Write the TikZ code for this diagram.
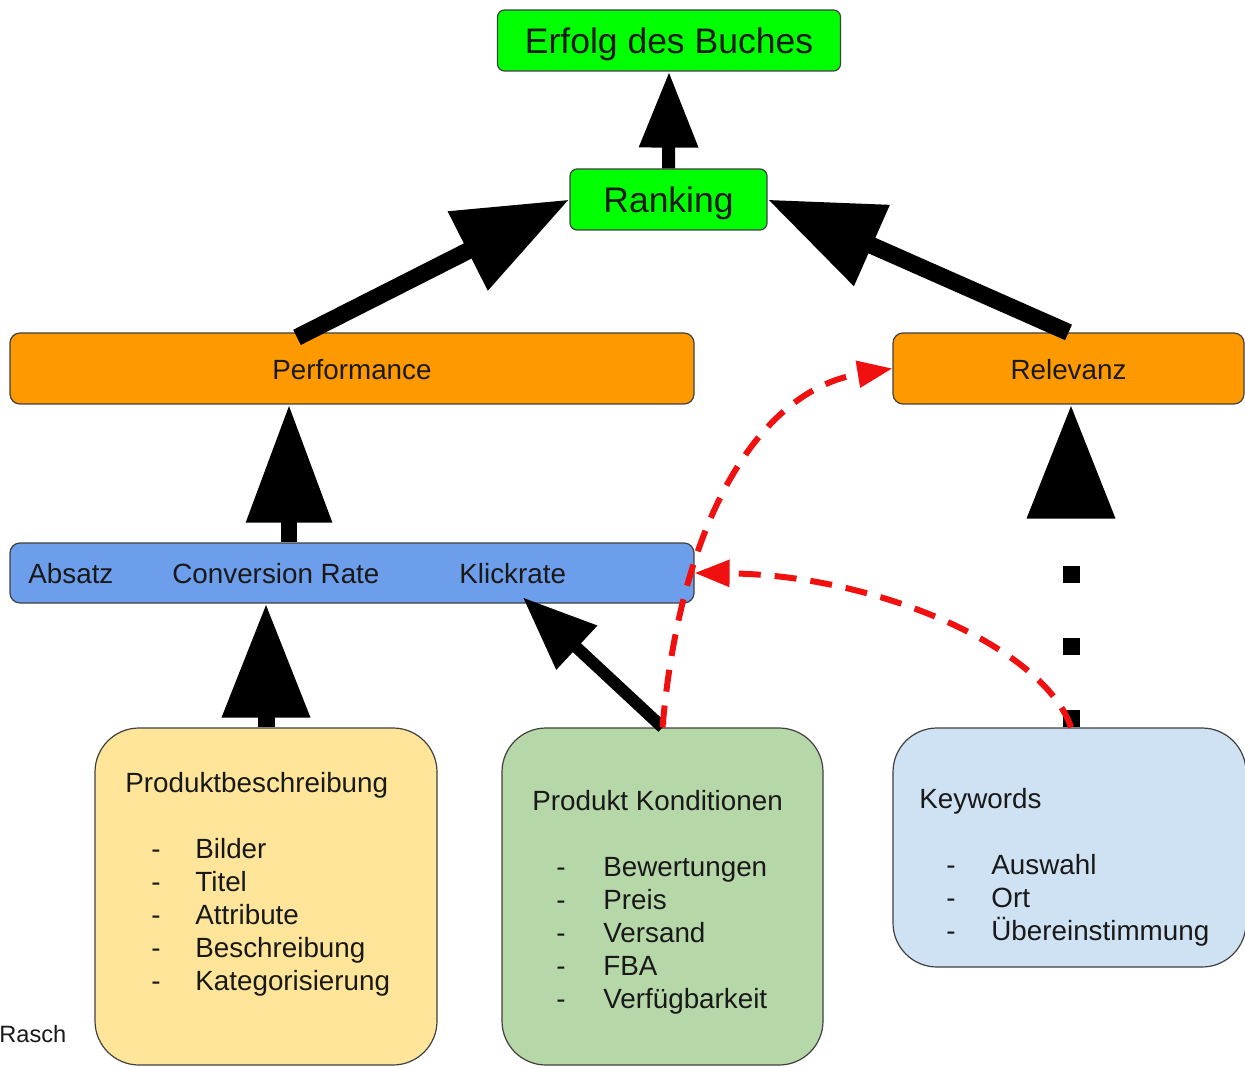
\documentclass[tikz,border=0pt]{standalone}
\usepackage{fontspec}
\setmainfont{Liberation Sans}
\usetikzlibrary{arrows.meta,calc}

\definecolor{goalgreen}{RGB}{0,255,0}
\definecolor{factororange}{RGB}{255,153,0}
\definecolor{kpiblue}{RGB}{109,158,235}
\definecolor{descyellow}{RGB}{255,229,153}
\definecolor{condgreen}{RGB}{182,215,168}
\definecolor{keyblue}{RGB}{207,226,243}
\definecolor{linkred}{RGB}{240,16,16}

\begin{document}
\begin{tikzpicture}
[x=0.5pt, y=-0.5pt, text=black!90,
goal/.style={rectangle, draw=black!75, fill=goalgreen, line width=0.6pt, rounded corners=3.5pt, inner sep=0pt, minimum height=30.5pt, text height=16.6pt, text depth=3.7pt, font=\fontsize{17.75}{20}\selectfont},
factor/.style={rectangle, draw=black!75, fill=factororange, line width=0.6pt, rounded corners=5pt, inner sep=0pt, minimum height=35.5pt, text height=13.6pt, text depth=2.9pt, font=\fontsize{13.9}{16.5}\selectfont},
kpi/.style={rectangle, draw=black!75, fill=kpiblue, line width=0.6pt, rounded corners=5pt, inner sep=0pt, minimum height=30pt},
label/.style={inner sep=0pt, text height=10pt, text depth=2.9pt, font=\fontsize{13.9}{16.5}\selectfont},
source/.style={rectangle, draw=black!75, line width=0.6pt, rounded corners=22pt, inner sep=0pt, minimum height=168.5pt},
list/.style={inner sep=0pt, anchor=base west, font=\fontsize{13.9}{16.5}\selectfont},
fat/.style={draw=black, line width=8.5pt, -{Triangle[length=57pt, width=42pt]}},
slim/.style={draw=black, line width=6.5pt, -{Triangle[length=38pt, width=28pt]}},
link/.style={draw=linkred, line width=3pt, dash pattern=on 11pt off 7pt, -{Triangle[length=17.5pt, width=13pt]}}
]

\useasboundingbox (0,0) rectangle (1245,1068);

\node[goal, minimum width=171.5pt] (erfolg) at (669,40.5) {Erfolg des Buches};
\node[goal, minimum width=98.5pt] (ranking) at (668.5,199.5) {Ranking};

\node[factor, minimum width=342pt] (perf) at (352,368.5) {Performance};
\node[factor, minimum width=175.5pt] (relevanz) at (1068.5,368.5) {Relevanz};

\node[kpi, minimum width=342pt] (kpis) at (352,573) {};
\node[label, anchor=west] (absatz) at (28,576) {Absatz};
\node[label, anchor=west] (convrate) at (172,576) {Conversion Rate};
\node[label, anchor=west] (klickrate) at (459,576) {Klickrate};

\node[source, fill=descyellow, minimum width=171pt] (prod) at (266,896.5) {};
\node[source, fill=condgreen, minimum width=160.5pt] (kond) at (662.5,896.5) {};
\node[source, fill=keyblue, minimum width=176.5pt, minimum height=119.5pt] (keyw) at (1069.5,847.5) {};

\node[list] (prodtext) at (125,792) {\begin{tabular}[t]{@{}p{13pt}@{}p{22pt}@{}l@{}}
\multicolumn{3}{@{}l@{}}{Produktbeschreibung}\\
\\
& - & Bilder\\
& - & Titel\\
& - & Attribute\\
& - & Beschreibung\\
& - & Kategorisierung
\end{tabular}};

\node[list] (kondtext) at (532,810) {\begin{tabular}[t]{@{}p{12pt}@{}p{23.5pt}@{}l@{}}
\multicolumn{3}{@{}l@{}}{Produkt Konditionen}\\
\\
& - & Bewertungen\\
& - & Preis\\
& - & Versand\\
& - & FBA\\
& - & Verfügbarkeit
\end{tabular}};

\node[list] (keywtext) at (919,808) {\begin{tabular}[t]{@{}p{13.5pt}@{}p{22.5pt}@{}l@{}}
\multicolumn{3}{@{}l@{}}{Keywords}\\
\\
& - & Auswahl\\
& - & Ort\\
& - & Übereinstimmung
\end{tabular}};

\node[inner sep=0pt, anchor=base west, font=\fontsize{11.8}{13}\selectfont] (credit) at (-1,1042) {Rasch};

\draw[slim] (ranking.north) -- (erfolg.south);
\draw[fat] ($(perf.north)+(-55,5)$) -- (ranking.west);
\draw[fat] (relevanz.north) -- (ranking.east);
\draw[fat, line width=8pt, -{Triangle[length=59pt, width=41pt]}] ($(kpis.north)+(-63,0)$) -- ($(perf.south)+(-63,0)$);
\draw[fat] (prod.north) -- (prod.north |- kpis.south);
\draw[slim, line width=6pt, -{Triangle[length=37pt, width=28.5pt]}] (kond.north) -- ($(klickrate.south)+(10,8)$);
\draw[fat, dash pattern=on 8.5pt off 27.5pt] ($(keyw.north)+(1.5,0)$) -- ($(relevanz.south)+(2.5,0)$);

\draw[link] (kond.north) .. controls +(18,-208) and +(-133,22) .. (relevanz.west);
\draw[link] ($(keyw.north)+(1.5,0)$) .. controls +(-26,-78) and +(186,2) .. (kpis.east);

\end{tikzpicture}
\end{document}
